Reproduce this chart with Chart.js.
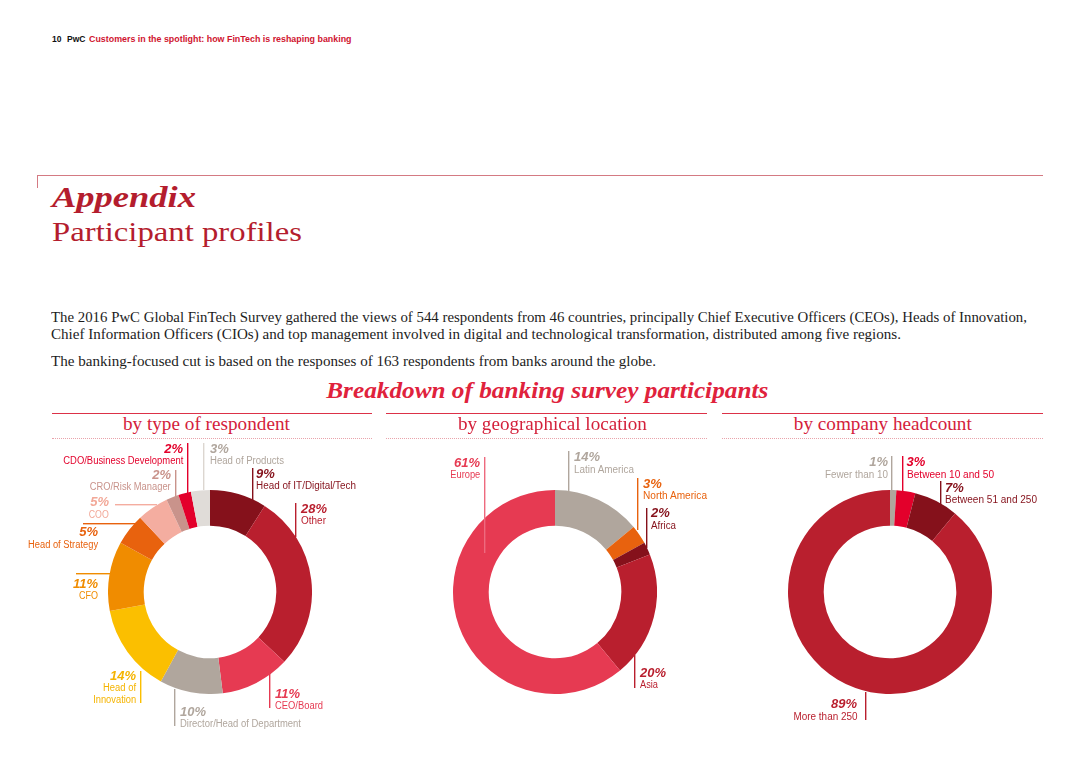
<!DOCTYPE html>
<html><head><meta charset="utf-8">
<script src="https://cdn.jsdelivr.net/npm/chart.js@4.4.0/dist/chart.umd.min.js"></script>
<style>
html,body{margin:0;padding:0;background:#fff;}
body{width:1080px;height:763px;position:relative;overflow:hidden;font-family:"Liberation Sans",Arial,sans-serif;}
canvas.cv{position:absolute;}
</style></head><body>
<canvas id="c1" class="cv" width="204" height="204" style="left:108px;top:490px;width:204px;height:204px"></canvas>
<canvas id="c2" class="cv" width="204" height="204" style="left:453px;top:490px;width:204px;height:204px"></canvas>
<canvas id="c3" class="cv" width="204" height="204" style="left:788px;top:490px;width:204px;height:204px"></canvas>
<script>
// ---------- DATA ----------
const respondentTypes = ["Head of IT/Digital/Tech","Other","CEO/Board","Director/Head of Department","Head of Innovation","CFO","Head of Strategy","COO","CRO/Risk Manager","CDO/Business Development","Head of Products"];
const respondentShares = [9,28,11,10,14,11,5,5,2,2,3];
const regions = ["Latin America","North America","Africa","Asia","Europe"];
const regionShares = [14,3,2,20,61];
const headcountBands = ["Fewer than 10","Between 10 and 50","Between 51 and 250","More than 250"];
const headcountShares = [1,3,7,89];

// ---------- STYLES ----------
const respondentColors = ['#85111b','#b91f2e','#e63a52','#b0a69d','#fbbf00','#f08c00','#e8620e','#f4ada0','#c9938b','#e3002b','#e0dcd8'];
const respondentText   = ['#85111b','#b91f2e','#e63a52','#b0a69d','#f5b400','#f08c00','#e8620e','#f2a898','#c9938b','#e3002b','#b0a69d'];
const respondentLine   = ['#85111b','#b91f2e','#e63a52','#b0a69d','#fbbf00','#f08c00','#e8620e','#f4ada0','#c9938b','#e3002b','#dcd6d0'];
const regionColors = ['#b0a69d','#e8620e','#85111b','#b91f2e','#e63a52'];
const regionLine   = ['#b0a69d','#e8620e','#85111b','#b91f2e','#ee6a7e'];
const headcountColors = ['#b0a69d','#e3002b','#85111b','#b91f2e'];

// ---------- LABEL LAYOUT ----------
const respondentLayout = [
 {x:256,y:473,al:'left',w:100,ln:[253,468,253,500]},
 {x:301,y:508,al:'left',w:25,ln:[296,503,296,537]},
 {x:275,y:693,al:'left',w:48,ln:[270,663,270,708]},
 {x:180,y:711,al:'left',w:121,ln:[175,689,175,726]},
 {x:136,y:675,al:'right',ln:[141,671,141,703],two:true},
 {x:98,y:583,al:'right',w:19,ln:[76,573.5,110,573.5]},
 {x:98,y:531.5,al:'right',w:70,ln:[83,523.5,137,523.5]},
 {x:109,y:501.5,al:'right',w:20,ln:[115,505,157,505]},
 {x:171,y:474,al:'right',w:81,ln:[176,470,176,500]},
 {x:183,y:448,al:'right',w:120,ln:[187.5,443,187.5,493]},
 {x:210,y:448,al:'left',w:74,ln:[204,443,204,490]}
];
const regionLayout = [
 {x:574,y:456.5,al:'left',w:60,ln:[569,451,569,491]},
 {x:643,y:483,al:'left',w:64,ln:[638,478,638,530]},
 {x:651,y:512.5,al:'left',w:25,ln:[646.5,508,646.5,548]},
 {x:640,y:672,al:'left',w:18,ln:[635,655,635,688]},
 {x:480,y:462,al:'right',w:30,ln:[485,457,485,553]}
];
const headcountLayout = [
 {x:888,y:461.5,al:'right',w:63,ln:[891.7,456,891.7,490]},
 {x:906.5,y:461.5,al:'left',w:87,ln:[902.3,456,902.3,492]},
 {x:945,y:487,al:'left',w:92,ln:[941,481,941,505]},
 {x:857,y:703.5,al:'right',w:64,ln:[865.7,692,865.7,720]}
];

const SANS = '"Liberation Sans", Arial, sans-serif';
const SERIF = '"Liberation Serif", "DejaVu Serif", serif';

function txt(s, x, base, o){
  const d=document.createElement('div');
  d.textContent=s;
  d.style.cssText=`position:absolute;white-space:nowrap;z-index:3;font-family:${o.ff||SANS};font-size:${o.fs}px;line-height:${o.fs}px;font-weight:${o.fw||'normal'};font-style:${o.fi?'italic':'normal'};color:${o.c};`;
  document.body.appendChild(d);
  const w0=d.getBoundingClientRect().width;
  const al=o.al||'left';
  const left = al==='left'? x : al==='right'? x-w0 : x-w0/2;
  d.style.left=left+'px';
  d.style.top=(base - 0.84*o.fs)+'px';
  if(o.w){
    d.style.transformOrigin = al==='left'?'0 0': al==='right'?'100% 0':'50% 0';
    d.style.transform=`scaleX(${o.w/w0})`;
  }
  return d;
}
// leader lines: thin coloured bars (thickness t)
function bar(x1,y1,x2,y2,c,t){
  const d=document.createElement('div');
  const horiz = Math.abs(y2-y1) < Math.abs(x2-x1);
  d.style.position='absolute';d.style.zIndex=2;d.style.background=c;
  if(horiz){
    d.style.left=Math.min(x1,x2)+'px';d.style.top=(y1-t/2)+'px';
    d.style.width=Math.abs(x2-x1)+'px';d.style.height='1px';
    d.style.transformOrigin='0 0';d.style.transform=`scaleY(${t})`;
  } else {
    d.style.left=(x1-t/2)+'px';d.style.top=Math.min(y1,y2)+'px';
    d.style.height=Math.abs(y2-y1)+'px';d.style.width='1px';
    d.style.transformOrigin='0 0';d.style.transform=`scaleX(${t})`;
  }
  document.body.appendChild(d);
}
function hline(x1,x2,y,c,style){
  const d=document.createElement('div');
  d.style.cssText=`position:absolute;left:${x1}px;top:${y}px;width:${x2-x1}px;height:0;border-top:1px ${style||'solid'} ${c};`;
  document.body.appendChild(d);
}

// ---------- PAGE TEXT ----------
txt('10',52,42.5,{fs:8.5,fw:'bold',c:'#111'});
txt('PwC',66.5,42.5,{fs:8.5,fw:'bold',c:'#111',w:18.5});
txt('Customers in the spotlight: how FinTech is reshaping banking',89,42.5,{fs:8.5,fw:'bold',c:'#d0142f',w:262.5});

hline(37,1043,175,'#d47a83');
bar(37.5,175,37.5,188,'#d47a83',1);
txt('Appendix',51.5,207.7,{ff:SERIF,fs:29,fw:'bold',fi:true,c:'#b41d2e',w:144});
txt('Participant profiles',51.5,241.7,{ff:SERIF,fs:27,c:'#b41d2e',w:250});

const P = {ff:SERIF,fs:14.5,c:'#1c1c1c'};
txt('The 2016 PwC Global FinTech Survey gathered the views of 544 respondents from 46 countries, principally Chief Executive Officers (CEOs), Heads of Innovation,',51,322.5,{...P,w:976});
txt('Chief Information Officers (CIOs) and top management involved in digital and technological transformation, distributed among five regions.',51,339.5,{...P,w:850});
txt('The banking-focused cut is based on the responses of 163 respondents from banks around the globe.',51,366.5,{...P,w:605});

txt('Breakdown of banking survey participants',547,398,{ff:SERIF,fs:23,fw:'bold',fi:true,c:'#e0223c',al:'center',w:442});
[[52,372,206.5,167,'by type of respondent'],[386,707,552.5,189,'by geographical location'],[722,1043,883,178,'by company headcount']].forEach(s=>{
  hline(s[0],s[1],412.5,'#dc3148');
  hline(s[0],s[1],438,'#e9a3ab','dotted');
  txt(s[4],s[2],430.5,{ff:SERIF,fs:18.5,c:'#d4213b',al:'center',w:s[3]});
});

// ---------- LABELS ----------
function labels(names, vals, layout, textColors, lineColors){
  names.forEach((n,i)=>{
    const L=layout[i];
    txt(vals[i]+'%',L.x,L.y+4.7,{fs:13,fw:'bold',fi:true,c:textColors[i],al:L.al});
    if(L.two){
      const parts=n.split(' ');
      txt(parts.slice(0,-1).join(' '),L.x,L.y+13+3.6,{fs:10,c:textColors[i],al:L.al,w:33});
      txt(parts[parts.length-1],L.x,L.y+25+3.6,{fs:10,c:textColors[i],al:L.al,w:43});
    } else {
      txt(n,L.x,L.y+13+3.6,{fs:10,c:textColors[i],al:L.al,w:L.w});
    }
    bar(L.ln[0],L.ln[1],L.ln[2],L.ln[3],lineColors[i],1.4);
  });
}
labels(respondentTypes,respondentShares,respondentLayout,respondentText,respondentLine);
labels(regions,regionShares,regionLayout,regionColors,regionLine);
labels(headcountBands,headcountShares,headcountLayout,headcountColors,headcountColors);

// ---------- CHARTS ----------
function donut(id, labels, data, colors){
  new Chart(document.getElementById(id),{
    type:'doughnut',
    data:{labels:labels,datasets:[{data:data,backgroundColor:colors,borderWidth:0,hoverOffset:0,offset:0}]},
    options:{responsive:false,animation:false,cutout:'65%',events:[],
      layout:{padding:0},
      plugins:{legend:{display:false},tooltip:{enabled:false}}}
  });
}
donut('c1',respondentTypes,respondentShares,respondentColors);
donut('c2',regions,regionShares,regionColors);
donut('c3',headcountBands,headcountShares,headcountColors);
</script>
</body></html>
